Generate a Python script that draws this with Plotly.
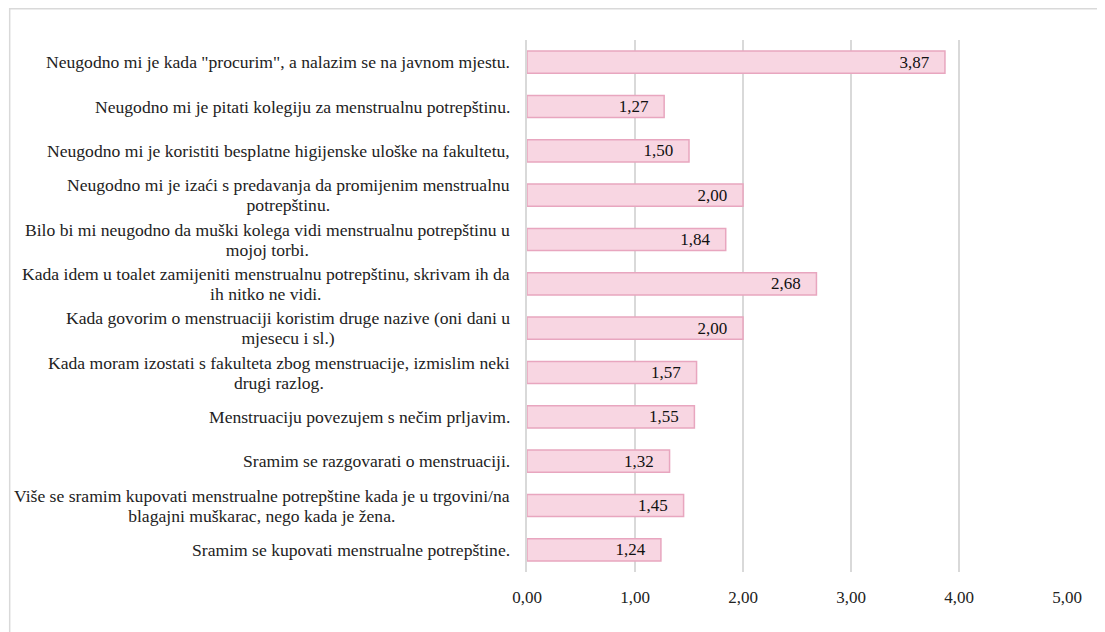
import plotly.graph_objects as go

statements = [
    'Neugodno mi je kada "procurim", a nalazim se na javnom mjestu.',
    'Neugodno mi je pitati kolegiju za menstrualnu potrepštinu.',
    'Neugodno mi je koristiti besplatne higijenske uloške na fakultetu,',
    'Neugodno mi je izaći s predavanja da promijenim menstrualnu<br>potrepštinu.',
    'Bilo bi mi neugodno da muški kolega vidi menstrualnu potrepštinu u<br>mojoj torbi.',
    'Kada idem u toalet zamijeniti menstrualnu potrepštinu, skrivam ih da<br>ih nitko ne vidi.',
    'Kada govorim o menstruaciji koristim druge nazive (oni dani u<br>mjesecu i sl.)',
    'Kada moram izostati s fakulteta zbog menstruacije, izmislim neki<br>drugi razlog.',
    'Menstruaciju povezujem s nečim prljavim.',
    'Sramim se razgovarati o menstruaciji.',
    'Više se sramim kupovati menstrualne potrepštine kada je u trgovini/na<br>blagajni muškarac, nego kada je žena.',
    'Sramim se kupovati menstrualne potrepštine.',
]
means = [3.87, 1.27, 1.50, 2.00, 1.84, 2.68, 2.00, 1.57, 1.55, 1.32, 1.45, 1.24]
ticks = [0, 1, 2, 3, 4, 5]

FONT = "Liberation Serif"
SIZE = 17
ids = list(range(len(statements)))

fig = go.Figure(go.Bar(
    x=means, y=ids, orientation="h",
    marker=dict(color="#f8d6e2", line=dict(color="#e8a6bf", width=1.5)),
    width=0.5,
    # trailing nbsp pushes the value away from the bar end
    texttemplate="%{x:.2f}\u00a0\u00a0\u00a0", textposition="inside",
    insidetextanchor="end", constraintext="none",
    textfont=dict(family=FONT, size=SIZE, color="#111111"),
    cliponaxis=False,
))

# category labels as annotations so wrapped lines are centred on each other;
# smaller base size keeps the line spacing tight, span sets the glyph size
for i, s in zip(ids, statements):
    txt = "<br>".join(f'<span style="font-size:17.6px">{ln}</span>'
                      for ln in s.split("<br>"))
    fig.add_annotation(x=0, y=i, xref="x", yref="y", text=txt, showarrow=False,
                       xanchor="right", align="center", xshift=-15,
                       font=dict(family=FONT, size=15.4, color="#222222"))

# outer chart frame
fig.add_shape(type="rect", xref="paper", yref="paper",
              x0=-0.958, x1=1.2, y0=-0.3, y1=1.0587,
              line=dict(color="#d9d9d9", width=1.5), fillcolor="rgba(0,0,0,0)")

fig.update_layout(
    width=1097, height=624,
    margin=dict(l=519, r=38, t=32, b=60),
    paper_bgcolor="white", plot_bgcolor="white",
    separators=",.",
    showlegend=False,
    font=dict(family=FONT, size=SIZE, color="#222222"),
    xaxis=dict(range=[0, 5.0], tickvals=ticks, tickformat=".2f",
               showgrid=True, gridcolor="#d9d9d9", gridwidth=1.5,
               zeroline=False, showline=False, ticks="",
               ticklabelstandoff=13),
    yaxis=dict(range=[len(ids) - 0.5, -0.5], showticklabels=False,
               showgrid=False, zeroline=False,
               showline=True, linecolor="#d9d9d9", linewidth=1.5),
)

fig.write_html("out.html")
